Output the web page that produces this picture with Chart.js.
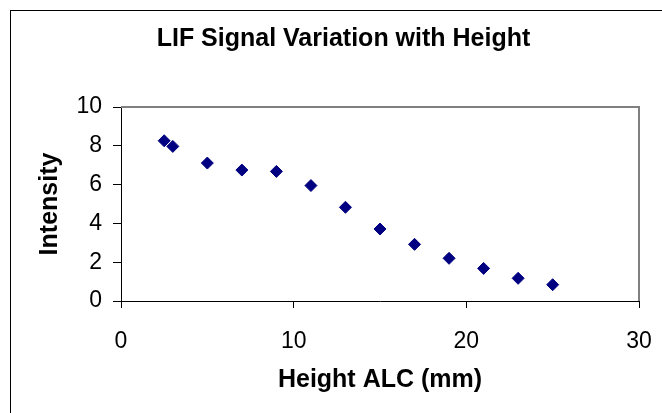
<!DOCTYPE html>
<html>
<head>
<meta charset="utf-8">
<script src="https://cdn.jsdelivr.net/npm/chart.js@4/dist/chart.umd.min.js"></script>
<style>
    html, body { margin: 0; padding: 0; background: #fff; }
    #wrap { position: relative; width: 662px; height: 413px; overflow: hidden; }
    #frame { position: absolute; left: 10px; top: 10px; width: 700px; height: 500px; border: 1px solid #000; }
    canvas { position: absolute; left: 0; top: 0; }
</style>
</head>
<body>
<div id="wrap">
    <div id="frame"></div>
    <canvas id="chart" width="676" height="413"></canvas>
</div>
<script>
// Height above the surface (mm) and the LIF intensity
const heights = [2.5, 3, 5, 7, 9, 11, 13, 15, 17, 19, 21, 23, 25];
const intensity = [8.26, 7.97, 7.11, 6.75, 6.68, 5.95, 4.83, 3.71, 2.92, 2.2, 1.68, 1.17, 0.84];

const xTicks = [0, 10, 20, 30];
const yTicks = [0, 2, 4, 6, 8, 10];

const points = heights.map((h, i) => ({ x: h, y: intensity[i] }));

// Grey top and right edges of the plot area
const plotBorder = {
    id: 'plotBorder',
    afterDraw(chart) {
        const { ctx, chartArea } = chart;
        ctx.save();
        ctx.strokeStyle = '#808080';
        ctx.lineWidth = 2;
        ctx.beginPath();
        ctx.moveTo(chartArea.left, chartArea.top);
        ctx.lineTo(chartArea.right, chartArea.top);
        ctx.lineTo(chartArea.right, chartArea.bottom);
        ctx.stroke();
        ctx.restore();
    }
};

const font = 'Liberation Sans, Arial, sans-serif';

new Chart(document.getElementById('chart').getContext('2d'), {
    type: 'scatter',
    data: {
        datasets: [{
            data: points,
            pointStyle: 'rectRot',
            pointRadius: 6,
            pointBackgroundColor: '#000080',
            pointBorderColor: '#000080',
            pointBorderWidth: 1
        }]
    },
    options: {
        responsive: false,
        animation: false,
        layout: { padding: { left: 11, right: 0, top: 0, bottom: 0 } },
        plugins: {
            legend: { display: false },
            tooltip: { enabled: false },
            title: {
                display: true,
                text: 'LIF Signal Variation with Height',
                color: '#000',
                font: { family: font, size: 25, weight: 'bold' },
                padding: { top: 24, bottom: 53 }
            }
        },
        scales: {
            x: {
                type: 'linear',
                min: xTicks[0],
                max: xTicks[xTicks.length - 1],
                afterBuildTicks: axis => { axis.ticks = xTicks.map(v => ({ value: v })); },
                afterFit: axis => { axis.height = 112; },
                grid: { display: true, drawOnChartArea: false, drawTicks: true, tickLength: 7, color: '#000' },
                border: { color: '#000', width: 1 },
                ticks: { color: '#000', font: { family: font, size: 23 }, padding: 20, maxRotation: 0 },
                title: {
                    display: true,
                    text: 'Height ALC (mm)',
                    color: '#000',
                    font: { family: font, size: 25, weight: 'bold' },
                    padding: { top: 0, bottom: 18 }
                }
            },
            y: {
                type: 'linear',
                min: yTicks[0],
                max: yTicks[yTicks.length - 1],
                afterBuildTicks: axis => { axis.ticks = yTicks.map(v => ({ value: v })); },
                afterFit: axis => { axis.width = 110; },
                grid: { display: true, drawOnChartArea: false, drawTicks: true, tickLength: 8, color: '#000' },
                border: { color: '#000', width: 1 },
                ticks: { color: '#000', font: { family: font, size: 23 }, padding: 11 },
                title: {
                    display: true,
                    text: 'Intensity',
                    color: '#000',
                    font: { family: font, size: 25, weight: 'bold' },
                    padding: { top: 24, bottom: 0 }
                }
            },
            // empty right-hand gutter so the plot ends where the reference does
            gutter: {
                type: 'linear',
                position: 'right',
                display: true,
                afterFit: axis => { axis.width = 37; },
                grid: { display: false },
                border: { display: false },
                ticks: { display: false }
            }
        }
    },
    plugins: [plotBorder]
});
</script>
</body>
</html>
